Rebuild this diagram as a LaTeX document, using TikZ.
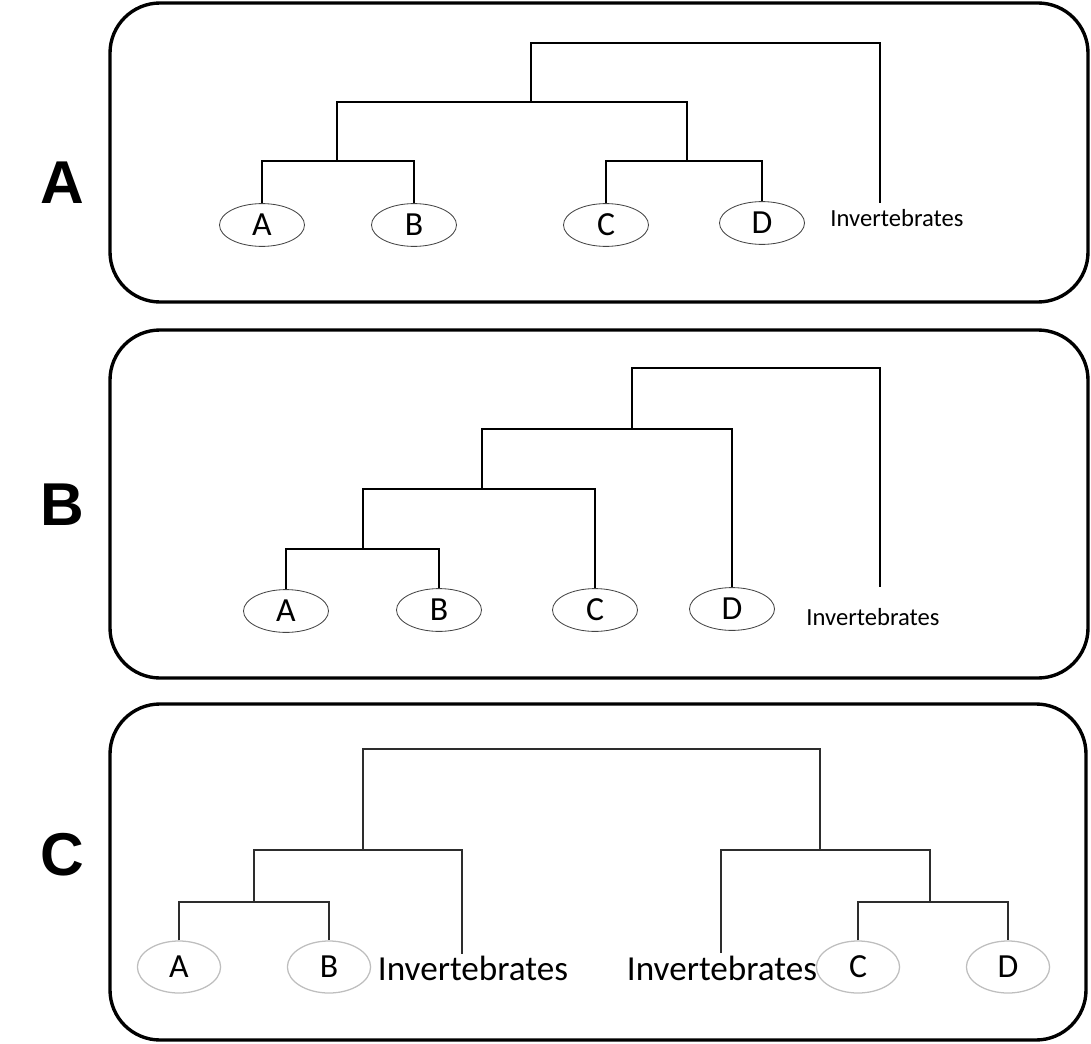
\documentclass[tikz,border=0pt]{standalone}
\usepackage{fontspec}
\setmainfont{Carlito}
\newfontfamily\tagfont{Liberation Sans}
\usetikzlibrary{shapes.geometric,positioning}
\definecolor{rimgrey}{RGB}{68,68,68}
\definecolor{paleoval}{RGB}{190,190,190}
\definecolor{branchgrey}{RGB}{45,45,45}

\begin{document}
\begin{tikzpicture}[x=0.025cm, y=-0.025cm,
  panel/.style={line width=2.4pt, rounded corners=1.25cm},
  tag/.style={font=\tagfont\bfseries\fontsize{43}{48}\selectfont},
  taxon/.style={ellipse, draw=rimgrey, line width=0.6pt, minimum width=2.125cm, minimum height=1.07cm, inner sep=0pt, font=\fontsize{24}{28}\selectfont},
  paletaxon/.style={taxon, draw=paleoval, line width=0.9pt, minimum width=2.08cm, minimum height=1.3cm},
  outgroup/.style={inner sep=0pt, font=\fontsize{17.5}{20}\selectfont},
  bigout/.style={inner sep=0pt, font=\fontsize{25}{29}\selectfont},
  branch/.style={line width=1.4pt},
  thinbranch/.style={line width=1pt, branchgrey}]
\useasboundingbox (0,0) rectangle (1091,1044);

% Panel labels
\node[tag] (tagA) at (62,183) {A};
\node[tag] (tagB) at (62,505) {B};
\node[tag] (tagC) at (62,855) {C};

% Top panel: ((A,B),(C,D)) with invertebrates
\draw[panel] (110,3) rectangle (1088,302);
\node[taxon] (aA) at (262,225) {A};
\node[taxon] (bA) at (414,225) {B};
\node[taxon] (cA) at (606,225) {C};
\node[taxon] (dA) at (762,223) {D};
\node[outgroup] (invA) at (897,218) {Invertebrates};
\coordinate (tipA) at (880,203);
\coordinate (nABa) at (337,161);
\coordinate (nCDa) at (687,161);
\coordinate (nABCDa) at (531,102);
\coordinate (rootA) at (531,43);
\draw[branch] (aA.north) |- (nABa) -| (bA.north);
\draw[branch] (cA.north) |- (nCDa) -| (dA.north);
\draw[branch] (nABa) |- (nABCDa) -| (nCDa);
\draw[branch] (nABCDa) -- (rootA) -| (tipA);

% Middle panel: (((A,B),C),D) with invertebrates
\draw[panel] (110,330) rectangle (1088,678);
\node[taxon] (aB) at (286,611) {A};
\node[taxon] (bB) at (439,610) {B};
\node[taxon] (cB) at (595,610) {C};
\node[taxon] (dB) at (732,609) {D};
\node[outgroup] (invB) at (873,617) {Invertebrates};
\coordinate (tipB) at (880,587);
\coordinate (nABb) at (363,549);
\coordinate (nABCb) at (482,489);
\coordinate (nABCDb) at (632,429);
\coordinate (rootB) at (632,368);
\draw[branch] (aB.north) |- (nABb) -| (bB.north);
\draw[branch] (nABb) |- (nABCb) -| (cB.north);
\draw[branch] (nABCb) |- (nABCDb) -| (dB.north);
\draw[branch] (nABCDb) -- (rootB) -| (tipB);

% Bottom panel: invertebrates on both sides
\draw[panel] (110,704) rectangle (1086,1040);
\node[paletaxon] (aC) at (179,967) {A};
\node[paletaxon] (bC) at (329,967) {B};
\node[bigout] (invC) at (473,968) {Invertebrates};
\node[bigout] (invD) at (722,968) {Invertebrates};
\node[paletaxon] (cC) at (858,967) {C};
\node[paletaxon] (dC) at (1008,967) {D};
\coordinate (tipC) at (462,954);
\coordinate (tipD) at (721,953);
\coordinate (nABc) at (254,902);
\coordinate (nCDc) at (930,902);
\coordinate (nLc) at (363,850);
\coordinate (nRc) at (820,850);
\coordinate (rootC) at (590,749);
\draw[thinbranch] (aC.north) |- (nABc) -| (bC.north);
\draw[thinbranch] (nABc) |- (nLc) -| (tipC);
\draw[thinbranch] (cC.north) |- (nCDc) -| (dC.north);
\draw[thinbranch] (tipD) |- (nRc) -| (nCDc);
\draw[thinbranch] (nLc) |- (rootC) -| (nRc);

\end{tikzpicture}
\end{document}
